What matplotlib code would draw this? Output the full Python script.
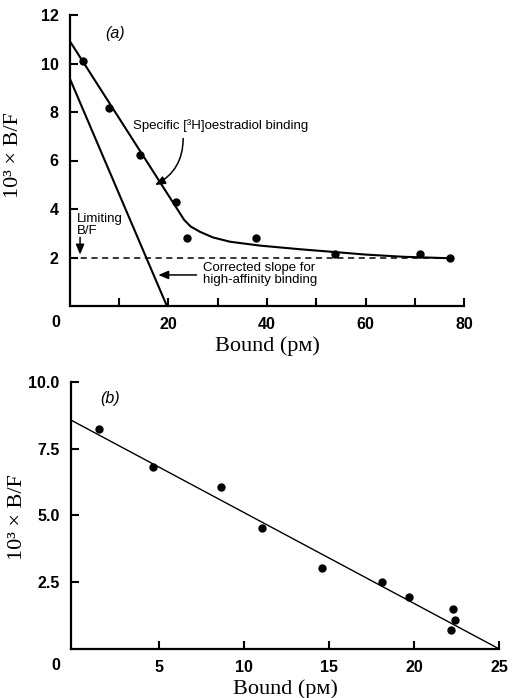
import matplotlib.pyplot as plt

# panel (a): Scatchard plot, specific [3H]oestradiol binding
a_bound = [2.6, 8.0, 14.3, 21.6, 23.7, 37.8, 53.7, 71.1, 77.1]
a_bf = [10.1, 8.18, 6.21, 4.30, 2.79, 2.79, 2.13, 2.13, 1.97]
a_fit_x = [0, 17.6, 21, 22.2, 23.2, 24.5, 26.4, 29, 32.5, 38.6, 46.7, 52.8, 60, 67.6, 77]
a_fit_y = [10.93, 5.33, 4.25, 3.87, 3.55, 3.28, 3.06, 2.83, 2.65, 2.49, 2.34, 2.24, 2.12, 2.03, 1.97]
a_high_x = [0, 19.7]
a_high_y = [9.39, 0]
a_limit_x = [0, 77]
a_limit_y = [2.0, 2.0]
a_xticks = [10, 20, 30, 40, 50, 60, 70, 80]
a_xlabels = ['', '20', '', '40', '', '60', '', '80']
a_yticks = [2, 4, 6, 8, 10, 12]

# panel (b): corrected high-affinity binding
b_bound = [1.49, 4.66, 8.64, 11.05, 14.59, 18.10, 19.71, 22.26, 22.39, 22.14]
b_bf = [8.23, 6.81, 6.05, 4.54, 3.02, 2.50, 1.95, 1.51, 1.07, 0.71]
b_fit_x = [-0.2, 25]
b_fit_y = [8.57, 0]
b_xticks = [5, 10, 15, 20, 25]
b_yticks = [2.5, 5.0, 7.5, 10.0]
b_ylabels = ['2.5', '5.0', '7.5', '10.0']

SANS = 'Liberation Sans'
SERIF = ['Liberation Serif', 'DejaVu Serif', 'DejaVu Sans']
YLAB = '10³ × B/F'
XLAB = 'Bound (pᴍ)'


def style_axes(ax):
    for s in ['top', 'right']:
        ax.spines[s].set_visible(False)
    for s in ['left', 'bottom']:
        ax.spines[s].set_linewidth(1.6)
    ax.tick_params(direction='in', length=6, width=1.5, pad=8,
                   labelsize=11.5)
    for lab in ax.get_xticklabels() + ax.get_yticklabels():
        lab.set_family(SANS)
        lab.set_weight('bold')


def arrow(ax, head, tail, rad=0.0):
    ax.annotate('', xy=head, xytext=tail,
                arrowprops=dict(arrowstyle='-|>,head_length=0.6,head_width=0.25',
                                connectionstyle=f'arc3,rad={rad}',
                                color='black', lw=1.1, mutation_scale=10,
                                shrinkA=0, shrinkB=0))


def plot_a(fig):
    ax = fig.add_axes([69.7/512, 1-306/698, 394.7/512, 291/698])
    ax.plot(a_fit_x, a_fit_y, color='black', lw=1.5)
    ax.plot(a_high_x, a_high_y, color='black', lw=1.5)
    ax.plot(a_limit_x, a_limit_y, color='black', lw=1.1, ls=(0, (4, 3)))
    ax.plot(a_bound, a_bf, 'o', color='black', ms=5, clip_on=False)
    ax.set_xlim(0, 80)
    ax.set_ylim(0, 12)
    ax.set_xticks(a_xticks)
    ax.set_xticklabels(a_xlabels)
    ax.set_yticks(a_yticks)
    style_axes(ax)
    ax.annotate('0', xy=(0, 0), xytext=(-10, -12), textcoords='offset points',
                ha='center', va='center', family=SANS, fontsize=11.5,
                weight='bold')

    ax.text(9.2, 11.25, '(a)', style='italic', family=SANS, fontsize=11.5,
            ha='center', va='center')
    ax.text(12.8, 7.42, 'Specific [³H]oestradiol binding', family=SANS,
            fontsize=9.5, ha='left', va='center')
    arrow(ax, (17.3, 4.99), (23.0, 6.91), rad=-0.3)
    ax.text(1.4, 3.36, 'Limiting\nB/F', family=SANS, fontsize=9.5,
            ha='left', va='center', linespacing=1.0)
    arrow(ax, (2.1, 2.12), (2.1, 2.83))
    ax.text(27.1, 1.33, 'Corrected slope for\nhigh-affinity binding',
            family=SANS, fontsize=9.5, ha='left', va='center', linespacing=1.05)
    arrow(ax, (17.95, 1.28), (25.7, 1.28))

    ax.set_xlabel(XLAB, family=SERIF, fontsize=16)
    ax.xaxis.set_label_coords(0.5, -0.105)
    ax.set_ylabel(YLAB, family=SERIF, fontsize=16)
    ax.yaxis.set_label_coords(-0.118, 0.52)


def plot_b(fig):
    ax = fig.add_axes([70.7/512, 1-649/698, 428.6/512, 267.3/698])
    ax.plot(b_fit_x, b_fit_y, color='black', lw=1.0)
    ax.plot(b_bound, b_bf, 'o', color='black', ms=5, clip_on=False)
    ax.set_xlim(-0.2, 25)
    ax.set_ylim(0, 10)
    ax.set_xticks(b_xticks)
    ax.set_yticks(b_yticks)
    ax.set_yticklabels(b_ylabels)
    style_axes(ax)
    ax.annotate('0', xy=(-0.2, 0), xytext=(-11, -12), textcoords='offset points',
                ha='center', va='center', family=SANS, fontsize=11.5,
                weight='bold')

    ax.text(2.1, 9.39, '(b)', style='italic', family=SANS, fontsize=11.5,
            ha='center', va='center')

    ax.set_xlabel(XLAB, family=SERIF, fontsize=16)
    ax.xaxis.set_label_coords(0.5, -0.112)
    ax.set_ylabel(YLAB, family=SERIF, fontsize=16)
    ax.yaxis.set_label_coords(-0.103, 0.495)


def main():
    fig = plt.figure(figsize=(5.12, 6.98), dpi=100)
    plot_a(fig)
    plot_b(fig)
    fig.savefig('out.png', dpi=100)


if __name__ == "__main__":
    main()
